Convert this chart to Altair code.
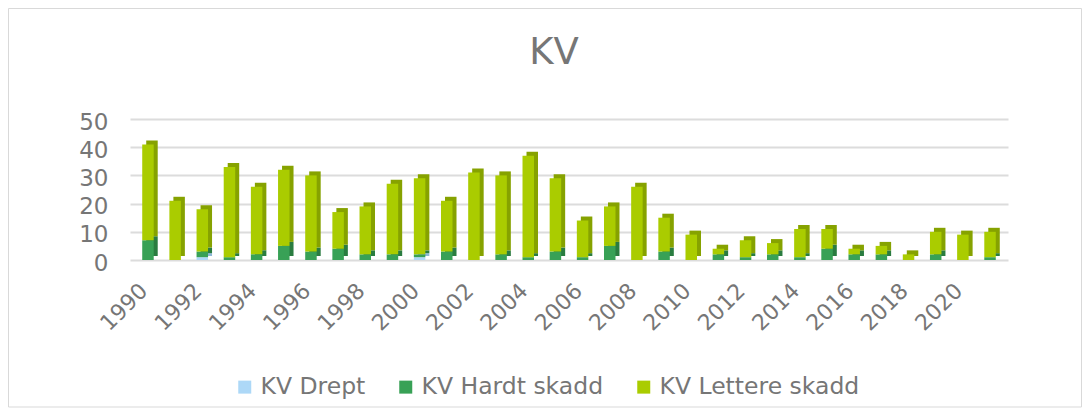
import altair as alt
import pandas as pd

years = list(range(1990, 2022))
drept = [0, 0, 1, 0, 0, 0, 0, 0, 0, 0, 1, 0, 0, 0, 0, 0,
         0, 0, 0, 0, 0, 0, 0, 0, 0, 0, 0, 0, 0, 0, 0, 0]
hardt = [7, 0, 2, 1, 2, 5, 3, 4, 2, 2, 1, 3, 0, 2, 1, 3,
         1, 5, 0, 3, 0, 2, 1, 2, 1, 4, 2, 2, 0, 2, 0, 1]
totals = [41, 21, 18, 33, 26, 32, 30, 17, 19, 27, 29, 21, 31, 30, 37, 29,
          14, 19, 26, 15, 9, 4, 7, 6, 11, 11, 4, 5, 2, 10, 9, 10]
lettere = [t - d - h for t, d, h in zip(totals, drept, hardt)]

series = ["KV Drept", "KV Hardt skadd", "KV Lettere skadd"]
colors = ["#ADD8F7", "#38A156", "#AACC00"]
side_colors = ["#8DB8D6", "#2A7C40", "#86A200"]

rows = []
for i, y in enumerate(years):
    for k, (name, vals) in enumerate(zip(series, [drept, hardt, lettere])):
        rows.append({"year": str(y), "series": name, "value": vals[i], "order": k})
df = pd.DataFrame(rows)

label_years = [str(y) for y in years if (y - 1990) % 2 == 0]

gray = "#767676"
font = "DejaVu Sans"

x = alt.X("year:N", sort=[str(y) for y in years],
          scale=alt.Scale(paddingInner=0.577, paddingOuter=0.45),
          axis=alt.Axis(title=None, values=label_years, labelAngle=-45,
                        labelAlign="right", labelBaseline="middle",
                        labelFontSize=22, labelColor=gray, labelFont=font,
                        ticks=False, domain=False, grid=False,
                        labelPadding=27, labelOffset=-4))
y = alt.Y("value:Q", stack="zero",
          scale=alt.Scale(domain=[0, 50]),
          axis=alt.Axis(title=None, values=[0, 10, 20, 30, 40, 50],
                        labelFontSize=23, labelColor=gray, labelFont=font,
                        ticks=False, domain=False, gridColor="#DCDCDC",
                        gridWidth=2, labelPadding=22, labelOffset=3))

back = alt.Chart(df).mark_bar(xOffset=4, yOffset=-4).encode(
    x=x, y=y,
    color=alt.Color("series:N", sort=series,
                    scale=alt.Scale(domain=series, range=side_colors),
                    legend=None),
    order=alt.Order("order:Q"),
)

front = alt.Chart(df).mark_bar().encode(
    x=x, y=y,
    color=alt.Color("series:N", sort=series,
                    scale=alt.Scale(domain=series, range=colors),
                    legend=alt.Legend(title=None, orient="none", direction="horizontal",
                                      legendX=103, legendY=256,
                                      symbolType="square", symbolSize=169,
                                      symbolStrokeWidth=0, labelLimit=500,
                                      labelFontSize=23.5, labelColor=gray,
                                      labelFont=font, columnPadding=28,
                                      labelOffset=4)),
    order=alt.Order("order:Q"),
)

title = alt.Chart(pd.DataFrame({"t": ["KV"]})).mark_text(
    fontSize=37, color=gray, font=font, align="center", baseline="middle"
).encode(text="t:N", x=alt.value(424), y=alt.value(-66))

frame = alt.Chart(pd.DataFrame({"t": ["KV"]})).mark_rect(
    fillOpacity=0, stroke="#D9D9D9", strokeWidth=1
).encode(
    x=alt.value(-121.5), x2=alt.value(951.5), y=alt.value(-110.5), y2=alt.value(288)
)

chart = alt.layer(frame, back, front, title).resolve_scale(color="independent").properties(
    width=878, height=141,
    autosize=alt.AutoSizeParams(type="none"),
    padding={"left": 122, "top": 111, "right": 74, "bottom": 148},
).configure_view(stroke=None)

chart.save("out.html", embed_options={"renderer": "svg", "actions": False})
